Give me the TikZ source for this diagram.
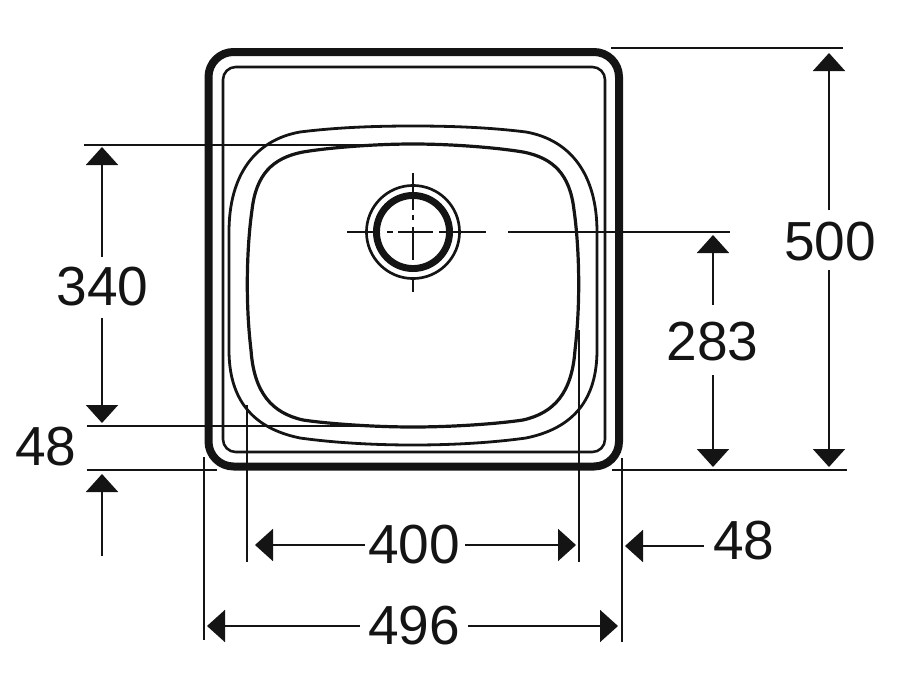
\documentclass[tikz,border=0pt]{standalone}
\usepackage{fontspec}
\setmainfont{Liberation Sans}
\usetikzlibrary{arrows.meta}
\definecolor{ink}{HTML}{141414}
\tikzset{
  rim/.style={draw=ink,line width=6pt,rounded corners=18.75pt},
  rimin/.style={draw=ink,line width=1.9pt,rounded corners=9.5pt},
  bowl/.style={draw=ink,line width=2.1pt},
  bowlin/.style={draw=ink,line width=2.4pt},
  extline/.style={draw=ink,line width=1.5pt},
  dimline/.style={draw=ink,line width=1.5pt,-{Triangle[length=13.5pt,width=24pt,fill=ink]}},
  centre/.style={draw=ink,line width=2pt},
  dimtext/.style={text=ink,inner sep=0pt,font=\fontsize{41.3}{41.3}\selectfont}
}
\begin{document}
\begin{tikzpicture}[x=.75pt,y=-.75pt]
\useasboundingbox (0,0) rectangle (900,696);
% sink body
\draw[rim] (208.5,52) rectangle (619,466.5);
\draw[rimin] (223,67) rectangle (605,452);
% outer bowl edge
\draw[bowl] (229,350) -- (229,232)
  .. controls (229,175) and (255,140) .. (300,132)
  .. controls (340,127) and (380,126) .. (413,126)
  .. controls (446,126) and (486,127) .. (526,132)
  .. controls (571,140) and (597,175) .. (597,232)
  -- (597,350)
  .. controls (597,398) and (575,428) .. (526,438)
  .. controls (490,443) and (450,445) .. (413,445)
  .. controls (376,445) and (336,443) .. (300,438)
  .. controls (251,428) and (229,398) .. (229,350) -- cycle;
% inner bowl edge
\draw[bowlin] (251,350)
  .. controls (245,300) and (247,245) .. (252,210)
  .. controls (256,175) and (272,158) .. (303,152)
  .. controls (330,147.5) and (375,144) .. (413,144)
  .. controls (451,144) and (496,147.5) .. (523,152)
  .. controls (554,158) and (570,175) .. (574,210)
  .. controls (579,245) and (581,300) .. (575,350)
  .. controls (572,393) and (554,413) .. (523,420)
  .. controls (496,424) and (451,427) .. (413,427)
  .. controls (375,427) and (330,424) .. (303,420)
  .. controls (272,413) and (254,393) .. (251,350) -- cycle;
% drain
\coordinate (drain) at (413,232);
\draw[draw=ink,line width=2pt] (drain) circle[radius=34.9pt];
\draw[draw=ink,line width=5.2pt] (drain) circle[radius=27.4pt];
% centre lines
\coordinate (vA) at (413,173); \coordinate (vB) at (413,210);
\coordinate (vC) at (413,215); \coordinate (vD) at (413,220);
\coordinate (vE) at (413,227); \coordinate (vF) at (413,260);
\coordinate (vG) at (413,279); \coordinate (vH) at (413,292);
\coordinate (hA) at (347,232); \coordinate (hB) at (379,232);
\coordinate (hC) at (387,232); \coordinate (hD) at (393,232);
\coordinate (hE) at (398,232); \coordinate (hF) at (433,232);
\coordinate (hG) at (439,232); \coordinate (hH) at (446,232);
\coordinate (hI) at (453,232); \coordinate (hJ) at (486,232);
\draw[centre] (vA)--(vB) (vC)--(vD) (vE)--(vF) (vG)--(vH);
\draw[centre] (hA)--(hB) (hC)--(hD) (hE)--(hF) (hG)--(hH) (hI)--(hJ);
% labels
\node[dimtext] (l500) at (830,242) {500};
\node[dimtext] (l283) at (712.5,342) {283};
\node[dimtext] (l340) at (102.5,287) {340};
\node[dimtext] (l48a) at (46,447) {48};
\node[dimtext] (l400) at (414,545) {400};
\node[dimtext] (l496) at (414,626) {496};
\node[dimtext] (l48b) at (744,541) {48};
% extension lines
\coordinate (e1a) at (611,48);  \coordinate (e1b) at (843,48);
\coordinate (e2a) at (612,470); \coordinate (e2b) at (847,470);
\coordinate (e3a) at (508,232); \coordinate (e3b) at (730,232);
\coordinate (e4a) at (84,145);  \coordinate (e4b) at (375,145);
\coordinate (e5a) at (87,426);  \coordinate (e5b) at (375,426);
\coordinate (e6a) at (87,470);  \coordinate (e6b) at (217,470);
\coordinate (e7a) at (204,457); \coordinate (e7b) at (204,640);
\coordinate (e8a) at (622,458); \coordinate (e8b) at (622,642);
\coordinate (e9a) at (247,405); \coordinate (e9b) at (247,562);
\coordinate (e10a) at (579,330); \coordinate (e10b) at (579,562);
\foreach \n in {1,...,10} \draw[extline] (e\n a) -- (e\n b);
% dimension lines
\coordinate (a1) at (829,210); \coordinate (a1t) at (829,53);
\coordinate (a2) at (829,270); \coordinate (a2t) at (829,467);
\coordinate (a3) at (713,305); \coordinate (a3t) at (713,235);
\coordinate (a4) at (713,375); \coordinate (a4t) at (713,467);
\coordinate (a5) at (102,257); \coordinate (a5t) at (102,147);
\coordinate (a6) at (102,318); \coordinate (a6t) at (102,423);
\coordinate (a7) at (102,556); \coordinate (a7t) at (102,474);
\coordinate (a8) at (365,545); \coordinate (a8t) at (255,545);
\coordinate (a9) at (465,545); \coordinate (a9t) at (576,545);
\coordinate (a10) at (360,626); \coordinate (a10t) at (207,626);
\coordinate (a11) at (468,626); \coordinate (a11t) at (618,626);
\coordinate (a12) at (704,546); \coordinate (a12t) at (625,546);
\foreach \n in {1,...,12} \draw[dimline] (a\n) -- (a\n t);
\end{tikzpicture}
\end{document}
